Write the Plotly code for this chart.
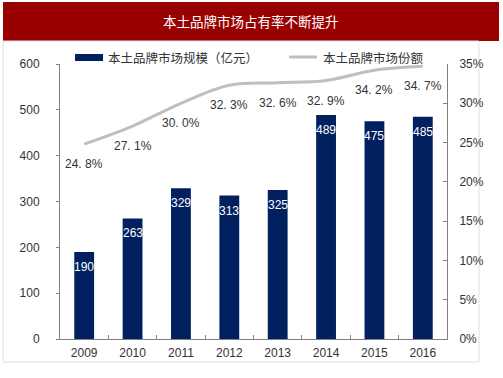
import plotly.graph_objects as go

years = ["2009", "2010", "2011", "2012", "2013", "2014", "2015", "2016"]
market_size = [190, 263, 329, 313, 325, 489, 475, 485]
market_share = [24.8, 27.1, 30.0, 32.3, 32.6, 32.9, 34.2, 34.7]
share_labels = ["24. 8%", "27. 1%", "30. 0%", "32. 3%", "32. 6%", "32. 9%", "34. 2%", "34. 7%"]
title_text = "本土品牌市场占有率不断提升"
bar_name = "本土品牌市场规模（亿元）"
line_name = "本土品牌市场份额"

FONT = "Liberation Sans, Arial, Noto Sans CJK SC, sans-serif"
CJK = "Noto Sans CJK SC, sans-serif"
BAR_COLOR = "#002060"
LINE_COLOR = "#BFBFBF"

W, H = 503, 378
L, R, T, B = 60, 56, 64, 39
pw, ph = W - L - R, H - T - B

def px_x(x):
    return (x - L) / pw

def px_y(y):
    return (H - B - y) / ph

fig = go.Figure()
fig.add_trace(go.Bar(
    x=years, y=market_size, name=bar_name,
    marker=dict(color=BAR_COLOR, line=dict(width=0)),
    width=0.41, showlegend=False,
))
fig.add_trace(go.Scatter(
    x=years, y=market_share, name=line_name, yaxis="y2", showlegend=False,
    mode="lines", line=dict(color=LINE_COLOR, width=3, shape="spline", smoothing=1.0),
))
for i, v in enumerate(market_size):
    fig.add_annotation(x=i, y=v, text=str(v), showarrow=False, yshift=-15,
                       font=dict(size=12, color="white", family=FONT))
for i, (v, lab) in enumerate(zip(market_share, share_labels)):
    fig.add_annotation(x=i, y=v, yref="y2", text=lab, showarrow=False,
                       yshift=-20, font=dict(size=12, color="#333333", family=FONT))

# banner
fig.add_shape(type="rect", xref="paper", yref="paper",
              x0=px_x(3), x1=px_x(499), y0=px_y(41), y1=px_y(2),
              fillcolor="#990000", line=dict(width=0), layer="below")
fig.add_annotation(xref="paper", yref="paper", x=px_x(251), y=px_y(21),
                   xanchor="center", yanchor="middle",
                   text=title_text, showarrow=False,
                   font=dict(size=13.5, color="white", family=CJK))
# outer border
fig.add_shape(type="rect", xref="paper", yref="paper",
              x0=px_x(3), x1=px_x(479), y0=px_y(362), y1=px_y(41),
              fillcolor="rgba(0,0,0,0)", line=dict(width=1, color="#E0E0E0"), layer="below")

# legend (drawn manually to match swatch shapes)
fig.add_shape(type="rect", xref="paper", yref="paper",
              x0=px_x(75), x1=px_x(103), y0=px_y(61), y1=px_y(54),
              fillcolor=BAR_COLOR, line=dict(width=0))
fig.add_annotation(xref="paper", yref="paper", x=px_x(106), y=px_y(57),
                   xanchor="left", yanchor="middle", text=bar_name, showarrow=False,
                   font=dict(size=12.5, color="#333333", family=CJK))
fig.add_shape(type="line", xref="paper", yref="paper",
              x0=px_x(289), x1=px_x(317), y0=px_y(57), y1=px_y(57),
              line=dict(color=LINE_COLOR, width=3))
fig.add_annotation(xref="paper", yref="paper", x=px_x(321), y=px_y(57),
                   xanchor="left", yanchor="middle", text=line_name, showarrow=False,
                   font=dict(size=12.5, color="#333333", family=CJK))

fig.update_layout(
    width=W, height=H,
    margin=dict(l=L, r=R, t=T, b=B, autoexpand=False),
    paper_bgcolor="white", plot_bgcolor="white",
    showlegend=False,
    xaxis=dict(type="category", range=[-0.5, 7.5], showline=True, linecolor="#808080", linewidth=1,
               ticks="inside", ticklen=4, tickcolor="#808080", tickson="boundaries",
               tickangle=0, automargin=False, ticklabelstandoff=3,
               tickfont=dict(size=12, color="#333333", family=FONT), showgrid=False),
    yaxis=dict(range=[0, 600], dtick=100, showline=True, linecolor="#808080", linewidth=1,
               ticks="outside", ticklen=3, tickcolor="#808080", automargin=False,
               ticklabelstandoff=14,
               tickfont=dict(size=12, color="#333333", family=FONT), showgrid=False,
               zeroline=False),
    yaxis2=dict(range=[0, 35], dtick=5, overlaying="y", side="right", ticksuffix="%",
                showline=True, linecolor="#808080", linewidth=1, automargin=False,
                ticks="inside", ticklen=4, tickcolor="#808080", ticklabelstandoff=9,
                tickfont=dict(size=12, color="#333333", family=FONT), showgrid=False,
                zeroline=False),
)

fig.write_html("out.html", config={"displayModeBar": False},
               post_script="document.body.style.margin='0';")
